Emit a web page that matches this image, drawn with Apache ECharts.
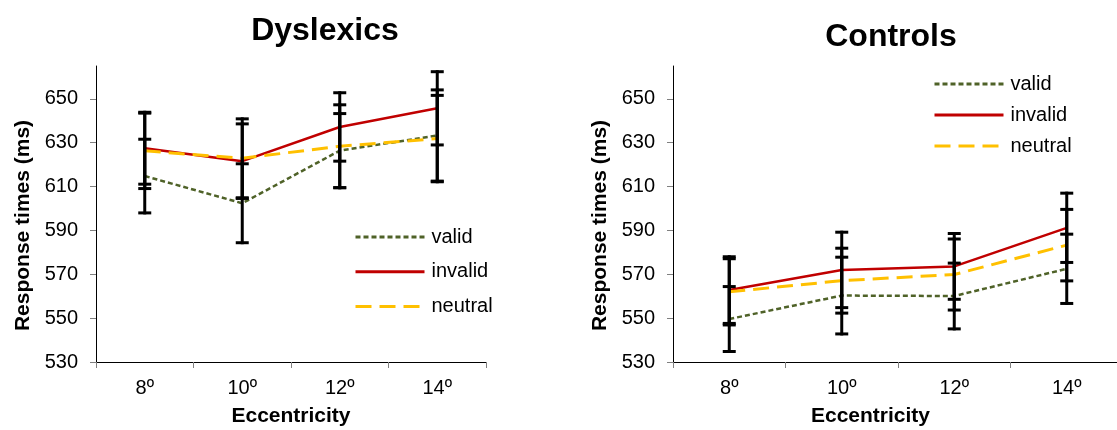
<!DOCTYPE html>
<html>
<head>
<meta charset="utf-8">
<script src="https://cdn.jsdelivr.net/npm/echarts@6/dist/echarts.min.js"></script>
<style>
html,body{margin:0;padding:0;background:#fff;}
#chart{width:1117px;height:430px;}
</style>
</head>
<body>
<div id="chart"></div>
<script>
// ---- data ----
const categories = ['8º', '10º', '12º', '14º'];
const yTicks = [530, 550, 570, 590, 610, 630, 650];
const seriesNames = ['valid', 'invalid', 'neutral'];

const dysValid = [614.8, 602.4, 626.4, 633.3];
const dysValidErr = [16.8, 18.0, 16.9, 20.8];
const dysInvalid = [627.5, 621.6, 637.2, 645.7];
const dysInvalidErr = [16.4, 17.0, 15.6, 16.7];
const dysNeutral = [626.3, 622.9, 628.4, 631.9];
const dysNeutralErr = [17.2, 18.0, 18.9, 19.7];

const ctlValid = [549.6, 560.3, 560.1, 572.5];
const ctlValidErr = [14.8, 17.5, 15.0, 15.8];
const ctlInvalid = [562.8, 572.0, 573.6, 591.2];
const ctlInvalidErr = [15.2, 17.2, 15.0, 15.8];
const ctlNeutral = [562.0, 567.1, 569.9, 583.3];
const ctlNeutralErr = [15.1, 14.8, 16.2, 16.3];

// ---- styles ----
const FONT = 'Liberation Sans, Arial, sans-serif';
const lineStyles = {
  valid: {color: '#4f6228', width: 2.5, type: [5, 3]},
  invalid: {color: '#c00000', width: 2.5, type: 'solid'},
  neutral: {color: '#ffc000', width: 3, type: [16, 8]}
};

function errData(means, errs) {
  return means.map((m, i) => [i, m - errs[i], m + errs[i]]);
}
function renderErr(params, api) {
  const x = api.value(0);
  const p1 = api.coord([x, api.value(2)]);
  const p2 = api.coord([x, api.value(1)]);
  const w = 6.5;
  const st = {stroke: '#000', lineWidth: 3};
  return {
    type: 'group',
    children: [
      {type: 'line', shape: {x1: p1[0], y1: p1[1] - 1.5, x2: p2[0], y2: p2[1] + 1.5}, style: st},
      {type: 'line', shape: {x1: p1[0] - w, y1: p1[1], x2: p1[0] + w, y2: p1[1]}, style: st},
      {type: 'line', shape: {x1: p2[0] - w, y1: p2[1], x2: p2[0] + w, y2: p2[1]}, style: st}
    ]
  };
}

function xAxisCfg(gi, namePad) {
  return {
    type: 'category', gridIndex: gi, data: categories, boundaryGap: true,
    axisLine: {lineStyle: {color: '#000', width: 1}},
    axisTick: {show: true, length: 6, lineStyle: {color: '#808080'}},
    axisLabel: {color: '#000', fontSize: 20, fontFamily: FONT, margin: 16},
    name: 'Eccentricity', nameLocation: 'middle', nameGap: 44,
    nameTextStyle: {color: '#000', fontSize: 21, fontWeight: 'bold', fontFamily: FONT, padding: namePad}
  };
}
function yAxisCfg(gi) {
  return {
    type: 'value', gridIndex: gi, min: 530, max: 665, interval: 20,
    axisLine: {show: true, lineStyle: {color: '#000', width: 1}},
    axisTick: {show: true, length: 6, lineStyle: {color: '#808080'}, customValues: yTicks},
    axisLabel: {color: '#000', fontSize: 20, fontFamily: FONT, margin: 18, customValues: yTicks},
    splitLine: {show: false},
    name: 'Response times (ms)', nameLocation: 'middle', nameGap: 62,
    nameTextStyle: {color: '#000', fontSize: 21, fontWeight: 'bold', fontFamily: FONT, padding: [0, 23, 0, 0]}
  };
}

function lineSeries(name, data, gi) {
  const s = lineStyles[name];
  return {
    type: 'line', name: name, xAxisIndex: gi, yAxisIndex: gi, data: data,
    symbol: 'none', z: 2, animation: false,
    lineStyle: {color: s.color, width: s.width, type: s.type},
    itemStyle: {color: s.color}
  };
}
function errSeries(data, gi) {
  return {
    type: 'custom', xAxisIndex: gi, yAxisIndex: gi, data: data, z: 5,
    renderItem: renderErr, encode: {x: 0, y: [1, 2]}, animation: false, silent: true
  };
}

const legendBase = {
  orient: 'vertical', data: seriesNames, itemWidth: 69, itemHeight: 20,
  selectedMode: false, padding: 0,
  itemStyle: {opacity: 0, borderWidth: 0},
  lineStyle: {width: 3},
  textStyle: {color: '#000', fontSize: 20, fontFamily: FONT, padding: [0, 0, 0, 2]}
};

const option = {
  animation: false,
  backgroundColor: '#fff',
  title: [
    {text: 'Dyslexics', left: 320, top: 10, textAlign: 'center',
     textStyle: {fontSize: 32, fontWeight: 'bold', color: '#000', fontFamily: FONT}},
    {text: 'Controls', left: 886, top: 16, textAlign: 'center',
     textStyle: {fontSize: 32, fontWeight: 'bold', color: '#000', fontFamily: FONT}}
  ],
  legend: [
    Object.assign({}, legendBase, {left: 354, top: 227, itemGap: 14.7}),
    Object.assign({}, legendBase, {left: 933, top: 74, itemGap: 11})
  ],
  grid: [
    {left: 96, top: 66, width: 390, height: 296, outerBoundsMode: 'none', containLabel: false},
    {left: 673, top: 66, width: 450, height: 296, outerBoundsMode: 'none', containLabel: false}
  ],
  xAxis: [xAxisCfg(0, [0, 0, 0, 0]), xAxisCfg(1, [0, 55, 0, 0])],
  yAxis: [yAxisCfg(0), yAxisCfg(1)],
  series: [
    lineSeries('valid', dysValid, 0),
    lineSeries('invalid', dysInvalid, 0),
    lineSeries('neutral', dysNeutral, 0),
    errSeries(errData(dysValid, dysValidErr), 0),
    errSeries(errData(dysInvalid, dysInvalidErr), 0),
    errSeries(errData(dysNeutral, dysNeutralErr), 0),
    lineSeries('valid', ctlValid, 1),
    lineSeries('invalid', ctlInvalid, 1),
    lineSeries('neutral', ctlNeutral, 1),
    errSeries(errData(ctlValid, ctlValidErr), 1),
    errSeries(errData(ctlInvalid, ctlInvalidErr), 1),
    errSeries(errData(ctlNeutral, ctlNeutralErr), 1)
  ]
};

const chart = echarts.init(document.getElementById('chart'), null, {renderer: 'canvas'});
chart.setOption(option);
</script>
</body>
</html>
